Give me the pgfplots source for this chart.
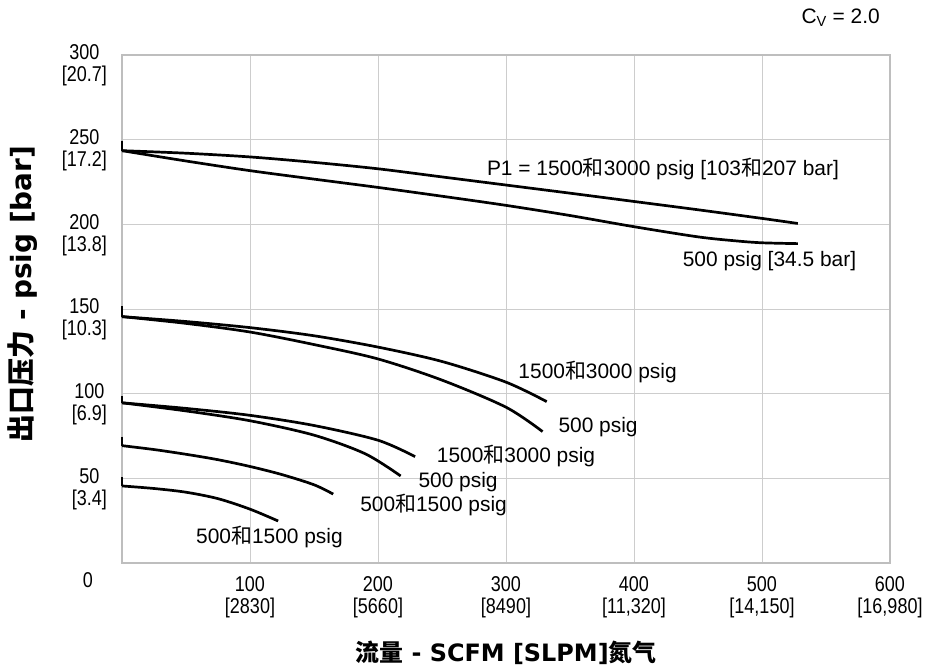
\documentclass[border=0pt]{standalone}
\usepackage{pgfplots}
\pgfplotsset{compat=1.18}
\usepackage{fontspec}
\setmainfont{Liberation Sans}
\newfontfamily\narrow[FakeStretch=0.84]{Liberation Sans}
\newfontfamily\cjk{Noto Sans CJK SC}
\newfontfamily\heavy{DejaVu Sans}
\definecolor{gridc}{RGB}{205,205,205}
\definecolor{axc}{RGB}{190,190,190}
\newcommand{\he}{{\cjk 和}}
\newcommand{\tf}{\narrow\fontsize{21.5}{22}\selectfont}
\begin{document}
\begin{tikzpicture}
\begin{axis}[
  scale only axis, width=768bp, height=508bp,
  xmin=0, xmax=600, ymin=0, ymax=300,
  xtick={100,200,300,400,500,600},
  xticklabels={{\tf 100\\{[2830]}},{\tf 200\\{[5660]}},{\tf 300\\{[8490]}},{\tf 400\\{[11,320]}},{\tf 500\\{[14,150]}},{\tf 600\\{[16,980]}}},
  ytick={50,100,150,200,250,300},
  yticklabels={{\tf 50\\{[3.4]}},{\tf 100\\{[6.9]}},{\tf 150\\{[10.3]}},{\tf 200\\{[13.8]}},{\tf 250\\{[17.2]}},{\tf 300\\{[20.7]}}},
  every tick label/.append style={font=\tf},
  major tick length=0pt,
  grid=major,
  grid style={draw=gridc, line width=0.9bp},
  axis line style={draw=axc, line width=1.6bp},
  xticklabel style={font=\tf, align=center, anchor=north, inner sep=0pt, yshift=-13bp},
  yticklabel style={font=\tf, align=center, anchor=east, inner sep=0pt, xshift=-15bp, yshift=-10.5bp},
  every axis plot/.append style={black, line width=2.7bp, no markers},
  clip=false,
]
% hooks
\addplot[sharp plot] coordinates {(0,249.5) (0,243.5)};
\addplot[sharp plot] coordinates {(0,151.5) (0,145.5)};
\addplot[sharp plot] coordinates {(0,98.6) (0,94.6)};
\addplot[sharp plot] coordinates {(0,74.6) (0,69.3)};
\addplot[sharp plot] coordinates {(0,50.6) (0,45.5)};
% P1 = 1500 & 3000
\addplot[smooth] coordinates {(0,243.5) (50,242) (100,239.8) (150,236.6) (200,232.8) (250,228) (300,223.2) (350,218.4) (400,213.5) (450,208.6) (500,203.5) (528,200.5)};
% 500 psig
\addplot[smooth] coordinates {(0,243.5) (50,237.4) (100,231.7) (150,226.7) (200,221.8) (250,216.6) (300,211.2) (350,205.2) (400,198.6) (450,192.6) (480,190.2) (500,189.1) (528,188.6)};
% group 2
\addplot[smooth] coordinates {(0,145.5) (50,142.6) (100,139) (150,134.2) (200,127.5) (250,119) (300,106.8) (331.8,95.3)};
\addplot[smooth] coordinates {(0,145.5) (50,141.5) (100,136.4) (150,129) (200,120.5) (250,108) (300,92) (328.6,77.6)};
% group 3
\addplot[smooth] coordinates {(0,94.6) (50,91.3) (100,87.2) (150,81.2) (200,72.5) (229,62.8)};
\addplot[smooth] coordinates {(0,94.6) (50,89.8) (100,84) (150,75.5) (190,64.5) (217.7,51.4)};
% group 4
\addplot[smooth] coordinates {(0,69.3) (25,67) (50,64.2) (75,61) (100,57) (125,52.2) (150,46.2) (165,40.7)};
% group 5
\addplot[smooth] coordinates {(0,45.5) (25,44) (50,41.8) (75,38) (100,31.8) (122,24.8)};

\begin{scope}[every node/.style={font=\fontsize{21}{24}\selectfont, anchor=west, inner sep=0pt}]
\node at (axis cs:285,232.5) {P1 = 1500\he 3000 psig [103\he 207 bar]};
\node at (axis cs:438,178) {500 psig [34.5 bar]};
\node at (axis cs:309.6,113) {1500\he 3000 psig};
\node at (axis cs:340.9,80.5) {500 psig};
\node at (axis cs:245.9,63.2) {1500\he 3000 psig};
\node at (axis cs:231.5,48) {500 psig};
\node at (axis cs:186,34.3) {500\he 1500 psig};
\node at (axis cs:57.8,15.2) {500\he 1500 psig};
\end{scope}
\node[inner sep=0pt] at ([xshift=-34bp,yshift=-17bp]rel axis cs:0,0) {\tf 0};
\node[font=\fontsize{21}{24}\selectfont, anchor=east, inner sep=0pt] at ([xshift=-10bp,yshift=37bp]rel axis cs:1,1) {C\textsubscript{V} = 2.0};
\node[font=\fontsize{24}{28}\selectfont\bfseries, inner sep=0pt] at ([yshift=-90bp]rel axis cs:0.5,0) {{\cjk\bfseries 流量}{\heavy\bfseries{} - SCFM [SLPM]}{\cjk\bfseries 氮气}};
\node[font=\fontsize{28}{30}\selectfont\bfseries, inner sep=0pt, rotate=90] at ([xshift=-99bp,yshift=15bp]rel axis cs:0,0.5) {{\cjk\bfseries 出口压力}{\heavy\bfseries{} - psig [bar]}};
\end{axis}
\pgfresetboundingbox
\path[use as bounding box] (-122bp,-109bp) rectangle (808bp,563bp);
\end{tikzpicture}
\end{document}
